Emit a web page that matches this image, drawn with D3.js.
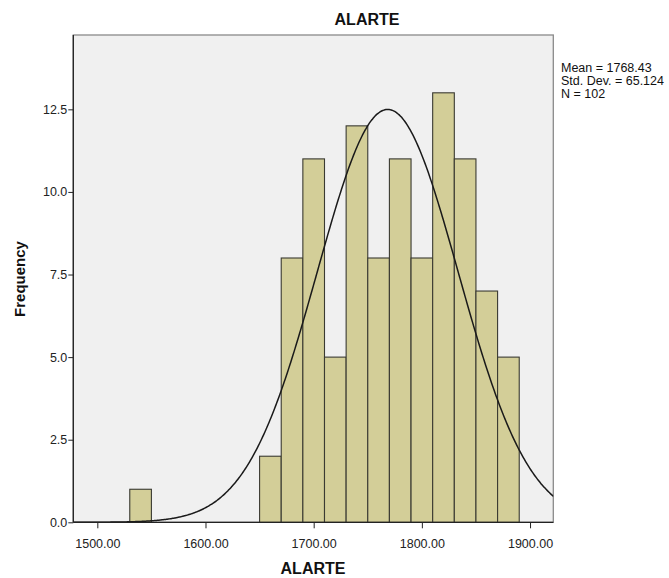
<!DOCTYPE html>
<html>
<head>
<meta charset="utf-8">
<script src="https://cdn.jsdelivr.net/npm/d3@7"></script>
<style>
  body { margin: 0; background: #fff; }
  svg { display: block; font-family: Arial, "Liberation Sans", sans-serif; }
</style>
</head>
<body>
<svg id="chart" width="669" height="578"></svg>
<script>
// ---- data ----
const binStarts = [1530, 1650, 1670, 1690, 1710, 1730, 1750, 1770, 1790, 1810, 1830, 1850, 1870];
const binWidth = 20;
const frequencies = [1, 2, 8, 11, 5, 12, 8, 11, 8, 13, 11, 7, 5];
const xTicks = [1500, 1600, 1700, 1800, 1900];
const yTicks = [0, 2.5, 5, 7.5, 10, 12.5];
const stats = { mean: 1768.43, sd: 65.124, n: 102 };
const legendLines = ["Mean = 1768.43", "Std. Dev. = 65.124", "N = 102"];
const titleText = "ALARTE";
const xTitle = "ALARTE";
const yTitle = "Frequency";

// ---- layout ----
const svg = d3.select("#chart");
const L = 73.3, R = 553.3, T = 35, B = 522.3;

const x = d3.scaleLinear().domain([1477.8, 1921.5]).range([L, R]);
const y = d3.scaleLinear().domain([0, 14.75]).range([B, T]);

// plot background
svg.append("rect").attr("x", L).attr("y", T).attr("width", R - L).attr("height", B - T)
  .attr("fill", "#f0f0f0").attr("stroke", "#8a8a8a").attr("stroke-width", 1.3);

svg.append("defs").append("clipPath").attr("id", "clip")
  .append("rect").attr("x", L).attr("y", T).attr("width", R - L).attr("height", B - T);

// bars
const bars = binStarts.map((s, i) => ({ x0: s, x1: s + binWidth, f: frequencies[i] }));
svg.append("g").selectAll("rect").data(bars).join("rect")
  .attr("x", d => x(d.x0))
  .attr("width", d => x(d.x1) - x(d.x0))
  .attr("y", d => y(d.f))
  .attr("height", d => y(0) - y(d.f))
  .attr("fill", "#d3ce98")
  .attr("stroke", "#3a3a32")
  .attr("stroke-width", 1.1);

// normal curve from stated mean/sd/N
const scale = stats.n * binWidth / (stats.sd * Math.sqrt(2 * Math.PI));
const xs = d3.range(1477.8, 1922, 1);
const line = d3.line()
  .x(v => x(v))
  .y(v => y(scale * Math.exp(-0.5 * Math.pow((v - stats.mean) / stats.sd, 2))))
  .curve(d3.curveBasis);
svg.append("path").datum(xs).attr("d", line)
  .attr("clip-path", "url(#clip)")
  .attr("fill", "none").attr("stroke", "#1a1a1a").attr("stroke-width", 1.5);

// axes
const xAxis = d3.axisBottom(x).tickValues(xTicks).tickFormat(d3.format(".2f")).tickSize(6).tickSizeOuter(0);
const gx = svg.append("g").attr("transform", `translate(0,${B})`).call(xAxis);
gx.select(".domain").remove();
gx.selectAll("line").attr("stroke", "#222");
gx.selectAll("text").attr("font-size", 12.5).attr("fill", "#222").attr("dy", "1.3em");

const yAxis = d3.axisLeft(y).tickValues(yTicks).tickFormat(d3.format(".1f")).tickSize(5).tickSizeOuter(0);
const gy = svg.append("g").attr("transform", `translate(${L},0)`).call(yAxis);
gy.select(".domain").remove();
gy.selectAll("line").attr("stroke", "#222");
gy.selectAll("text").attr("font-size", 12.5).attr("fill", "#222").attr("x", -6);

// axis lines (left + bottom black)
svg.append("line").attr("x1", L).attr("x2", L).attr("y1", T).attr("y2", B).attr("stroke", "#222").attr("stroke-width", 1.3);
svg.append("line").attr("x1", L).attr("x2", R).attr("y1", B).attr("y2", B).attr("stroke", "#222").attr("stroke-width", 1.3);

// titles
svg.append("text").attr("x", 367).attr("y", 25).attr("text-anchor", "middle")
  .attr("font-size", 16).attr("font-weight", "bold").attr("fill", "#111").text(titleText);
svg.append("text").attr("x", 313).attr("y", 574).attr("text-anchor", "middle")
  .attr("font-size", 16).attr("font-weight", "bold").attr("fill", "#111").text(xTitle);
svg.append("text").attr("transform", "translate(25,279) rotate(-90)").attr("text-anchor", "middle")
  .attr("font-size", 15).attr("font-weight", "bold").attr("fill", "#111").text(yTitle);

// legend
svg.append("g").selectAll("text").data(legendLines).join("text")
  .attr("x", 561).attr("y", (d, i) => 72 + i * 13)
  .attr("font-size", 12.5).attr("fill", "#111").text(d => d);
</script>
</body>
</html>
